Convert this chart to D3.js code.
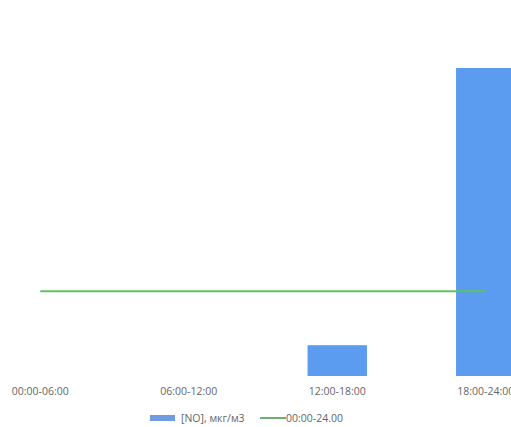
<!DOCTYPE html>
<html>
<head>
<meta charset="utf-8">
<script src="https://cdn.jsdelivr.net/npm/d3@7"></script>
<style>
  body { margin: 0; background: #fff; }
  text { font-family: "Open Sans", sans-serif; fill: #666; }
</style>
</head>
<body>
<script>
var categories = ['00:00-06:00', '06:00-12:00', '12:00-18:00', '18:00-24:00'];
var noValues = [0, 0, 0.01, 0.1];
var dayAvg = [0.0275, 0.0275, 0.0275, 0.0275];
var seriesNames = ['[NO], мкг/м3', '00:00-24.00'];

var width = 511;
var height = 427;
var baseY = 376;
var topY = 68;

var svg = d3.select('body')
  .append('svg')
  .attr('width', width)
  .attr('height', height);

var x = d3.scaleBand()
  .domain(categories)
  .range([-34, 560])
  .paddingInner(0.6)
  .paddingOuter(0.3);

var y = d3.scaleLinear()
  .domain([0, 0.1])
  .range([baseY, topY]);

// bars
svg.append('g').selectAll('rect.bar')
  .data(noValues)
  .enter().append('rect')
  .attr('class', 'bar')
  .attr('x', function(d, i) { return x(categories[i]); })
  .attr('y', function(d) { return y(d); })
  .attr('width', x.bandwidth())
  .attr('height', function(d) { return baseY - y(d); })
  .attr('fill', '#5b9bf0');

// daily average line
var line = d3.line()
  .x(function(d, i) { return x(categories[i]) + x.bandwidth() / 2; })
  .y(function(d) { return y(d); });

svg.append('path')
  .datum(dayAvg)
  .attr('d', line)
  .attr('fill', 'none')
  .attr('stroke', '#5cc35c')
  .attr('stroke-width', 2);

// category axis, no line or ticks
var xAxis = svg.append('g')
  .attr('transform', 'translate(0,' + baseY + ')')
  .call(d3.axisBottom(x).tickSize(0).tickPadding(12));
xAxis.select('.domain').remove();
xAxis.selectAll('text')
  .style('font-family', '"Open Sans", sans-serif')
  .style('font-size', '10.5px')
  .attr('fill', '#666');

// legend
var legend = svg.append('g').attr('transform', 'translate(150,418)');
legend.append('rect')
  .attr('x', 0).attr('y', -3)
  .attr('width', 25).attr('height', 6)
  .attr('fill', '#6f9be0');
legend.append('text')
  .attr('x', 31).attr('y', 4)
  .style('font-size', '10.5px')
  .text(seriesNames[0]);
legend.append('line')
  .attr('x1', 110).attr('x2', 136)
  .attr('y1', 0).attr('y2', 0)
  .attr('stroke', '#70ad70')
  .attr('stroke-width', 2);
legend.append('text')
  .attr('x', 136).attr('y', 4)
  .style('font-size', '10.5px')
  .text(seriesNames[1]);
</script>
</body>
</html>
